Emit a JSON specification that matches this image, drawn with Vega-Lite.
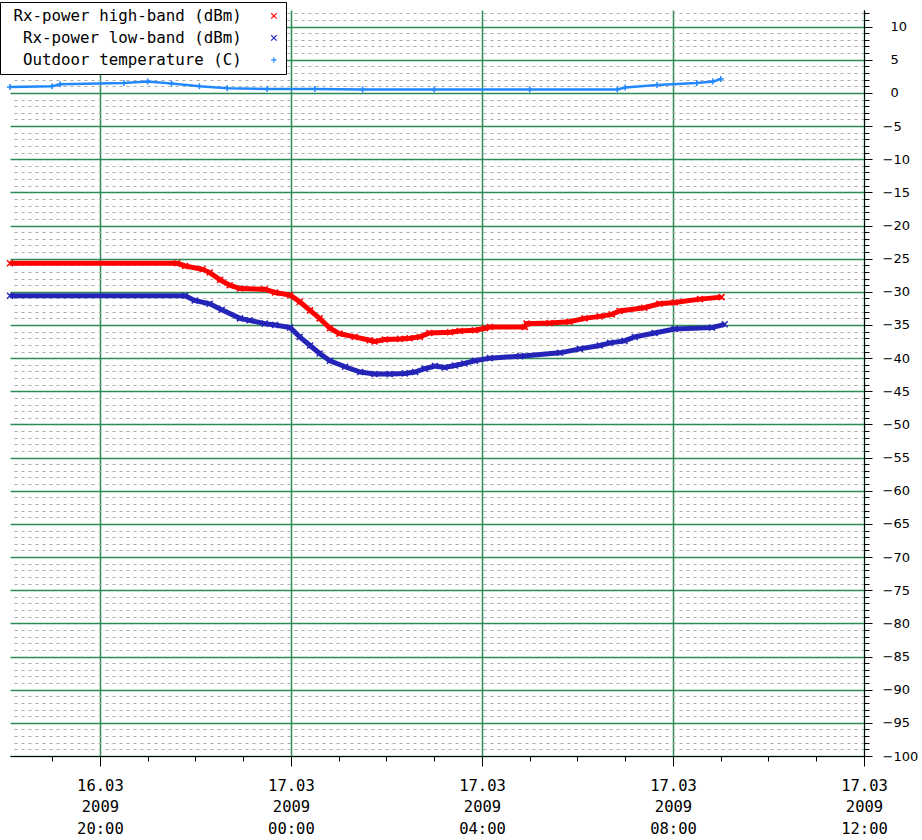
{
  "$schema": "https://vega.github.io/schema/vega-lite/v6.json",
  "width": 854,
  "height": 746,
  "autosize": {"type": "none"},
  "padding": {"left": 10, "top": 10, "right": 58, "bottom": 84},
  "background": "white",
  "config": {
    "view": {"stroke": null},
    "legend": {
      "title": null, "orient": "none", "legendX": -10, "legendY": -8,
      "fillColor": "white", "strokeColor": "black", "padding": 6,
      "labelFont": "DejaVu Sans Mono", "labelFontSize": 15.8, "labelColor": "black",
      "labelAlign": "right", "labelOffset": -40, "symbolOffset": 260, "labelLimit": 0,
      "rowPadding": 5, "symbolSize": 30, "symbolStrokeWidth": 1.2
    }
  },
  "data": {"values": [
    {"t": "2009-03-16T18:07", "s": "Rx-power high-band (dBm)", "v": -25.7},
    {"t": "2009-03-16T21:37", "s": "Rx-power high-band (dBm)", "v": -25.7},
    {"t": "2009-03-16T21:47", "s": "Rx-power high-band (dBm)", "v": -26.1},
    {"t": "2009-03-16T22:09", "s": "Rx-power high-band (dBm)", "v": -26.6},
    {"t": "2009-03-16T22:18", "s": "Rx-power high-band (dBm)", "v": -27.1},
    {"t": "2009-03-16T22:31", "s": "Rx-power high-band (dBm)", "v": -28.2},
    {"t": "2009-03-16T22:43", "s": "Rx-power high-band (dBm)", "v": -29.0},
    {"t": "2009-03-16T22:56", "s": "Rx-power high-band (dBm)", "v": -29.5},
    {"t": "2009-03-16T23:27", "s": "Rx-power high-band (dBm)", "v": -29.6},
    {"t": "2009-03-16T23:40", "s": "Rx-power high-band (dBm)", "v": -30.1},
    {"t": "2009-03-16T23:59", "s": "Rx-power high-band (dBm)", "v": -30.5},
    {"t": "2009-03-17T00:11", "s": "Rx-power high-band (dBm)", "v": -31.5},
    {"t": "2009-03-17T00:24", "s": "Rx-power high-band (dBm)", "v": -32.8},
    {"t": "2009-03-17T00:36", "s": "Rx-power high-band (dBm)", "v": -34.0},
    {"t": "2009-03-17T00:49", "s": "Rx-power high-band (dBm)", "v": -35.5},
    {"t": "2009-03-17T01:01", "s": "Rx-power high-band (dBm)", "v": -36.3},
    {"t": "2009-03-17T01:20", "s": "Rx-power high-band (dBm)", "v": -36.8},
    {"t": "2009-03-17T01:39", "s": "Rx-power high-band (dBm)", "v": -37.3},
    {"t": "2009-03-17T01:45", "s": "Rx-power high-band (dBm)", "v": -37.5},
    {"t": "2009-03-17T01:58", "s": "Rx-power high-band (dBm)", "v": -37.2},
    {"t": "2009-03-17T02:17", "s": "Rx-power high-band (dBm)", "v": -37.1},
    {"t": "2009-03-17T02:29", "s": "Rx-power high-band (dBm)", "v": -37.0},
    {"t": "2009-03-17T02:42", "s": "Rx-power high-band (dBm)", "v": -36.8},
    {"t": "2009-03-17T02:54", "s": "Rx-power high-band (dBm)", "v": -36.2},
    {"t": "2009-03-17T03:20", "s": "Rx-power high-band (dBm)", "v": -36.1},
    {"t": "2009-03-17T03:32", "s": "Rx-power high-band (dBm)", "v": -35.9},
    {"t": "2009-03-17T03:51", "s": "Rx-power high-band (dBm)", "v": -35.8},
    {"t": "2009-03-17T04:04", "s": "Rx-power high-band (dBm)", "v": -35.5},
    {"t": "2009-03-17T04:10", "s": "Rx-power high-band (dBm)", "v": -35.3},
    {"t": "2009-03-17T04:54", "s": "Rx-power high-band (dBm)", "v": -35.3},
    {"t": "2009-03-17T04:56", "s": "Rx-power high-band (dBm)", "v": -34.8},
    {"t": "2009-03-17T05:25", "s": "Rx-power high-band (dBm)", "v": -34.7},
    {"t": "2009-03-17T05:50", "s": "Rx-power high-band (dBm)", "v": -34.5},
    {"t": "2009-03-17T06:09", "s": "Rx-power high-band (dBm)", "v": -34.0},
    {"t": "2009-03-17T06:28", "s": "Rx-power high-band (dBm)", "v": -33.7},
    {"t": "2009-03-17T06:43", "s": "Rx-power high-band (dBm)", "v": -33.4},
    {"t": "2009-03-17T06:53", "s": "Rx-power high-band (dBm)", "v": -32.9},
    {"t": "2009-03-17T07:24", "s": "Rx-power high-band (dBm)", "v": -32.4},
    {"t": "2009-03-17T07:43", "s": "Rx-power high-band (dBm)", "v": -31.8},
    {"t": "2009-03-17T08:02", "s": "Rx-power high-band (dBm)", "v": -31.6},
    {"t": "2009-03-17T08:34", "s": "Rx-power high-band (dBm)", "v": -31.1},
    {"t": "2009-03-17T09:01", "s": "Rx-power high-band (dBm)", "v": -30.8},
    {"t": "2009-03-16T18:07", "s": "Rx-power low-band (dBm)", "v": -30.6},
    {"t": "2009-03-16T21:47", "s": "Rx-power low-band (dBm)", "v": -30.6},
    {"t": "2009-03-16T21:59", "s": "Rx-power low-band (dBm)", "v": -31.3},
    {"t": "2009-03-16T22:18", "s": "Rx-power low-band (dBm)", "v": -31.8},
    {"t": "2009-03-16T22:33", "s": "Rx-power low-band (dBm)", "v": -32.7},
    {"t": "2009-03-16T22:56", "s": "Rx-power low-band (dBm)", "v": -34.0},
    {"t": "2009-03-16T23:08", "s": "Rx-power low-band (dBm)", "v": -34.3},
    {"t": "2009-03-16T23:27", "s": "Rx-power low-band (dBm)", "v": -34.8},
    {"t": "2009-03-16T23:40", "s": "Rx-power low-band (dBm)", "v": -35.0},
    {"t": "2009-03-16T23:59", "s": "Rx-power low-band (dBm)", "v": -35.4},
    {"t": "2009-03-17T00:11", "s": "Rx-power low-band (dBm)", "v": -36.8},
    {"t": "2009-03-17T00:24", "s": "Rx-power low-band (dBm)", "v": -38.1},
    {"t": "2009-03-17T00:36", "s": "Rx-power low-band (dBm)", "v": -39.3},
    {"t": "2009-03-17T00:49", "s": "Rx-power low-band (dBm)", "v": -40.4},
    {"t": "2009-03-17T01:08", "s": "Rx-power low-band (dBm)", "v": -41.3},
    {"t": "2009-03-17T01:27", "s": "Rx-power low-band (dBm)", "v": -42.1},
    {"t": "2009-03-17T01:45", "s": "Rx-power low-band (dBm)", "v": -42.4},
    {"t": "2009-03-17T02:04", "s": "Rx-power low-band (dBm)", "v": -42.4},
    {"t": "2009-03-17T02:23", "s": "Rx-power low-band (dBm)", "v": -42.3},
    {"t": "2009-03-17T02:36", "s": "Rx-power low-band (dBm)", "v": -42.1},
    {"t": "2009-03-17T02:48", "s": "Rx-power low-band (dBm)", "v": -41.6},
    {"t": "2009-03-17T03:01", "s": "Rx-power low-band (dBm)", "v": -41.2},
    {"t": "2009-03-17T03:13", "s": "Rx-power low-band (dBm)", "v": -41.4},
    {"t": "2009-03-17T03:26", "s": "Rx-power low-band (dBm)", "v": -41.1},
    {"t": "2009-03-17T03:38", "s": "Rx-power low-band (dBm)", "v": -40.8},
    {"t": "2009-03-17T03:51", "s": "Rx-power low-band (dBm)", "v": -40.4},
    {"t": "2009-03-17T04:10", "s": "Rx-power low-band (dBm)", "v": -40.0},
    {"t": "2009-03-17T04:48", "s": "Rx-power low-band (dBm)", "v": -39.7},
    {"t": "2009-03-17T05:38", "s": "Rx-power low-band (dBm)", "v": -39.2},
    {"t": "2009-03-17T06:03", "s": "Rx-power low-band (dBm)", "v": -38.6},
    {"t": "2009-03-17T06:28", "s": "Rx-power low-band (dBm)", "v": -38.1},
    {"t": "2009-03-17T06:41", "s": "Rx-power low-band (dBm)", "v": -37.7},
    {"t": "2009-03-17T06:59", "s": "Rx-power low-band (dBm)", "v": -37.4},
    {"t": "2009-03-17T07:12", "s": "Rx-power low-band (dBm)", "v": -36.8},
    {"t": "2009-03-17T07:37", "s": "Rx-power low-band (dBm)", "v": -36.2},
    {"t": "2009-03-17T08:02", "s": "Rx-power low-band (dBm)", "v": -35.6},
    {"t": "2009-03-17T08:49", "s": "Rx-power low-band (dBm)", "v": -35.4},
    {"t": "2009-03-17T09:05", "s": "Rx-power low-band (dBm)", "v": -34.9},
    {"t": "2009-03-16T18:07", "s": "Outdoor temperature (C)", "v": 0.9},
    {"t": "2009-03-16T19:00", "s": "Outdoor temperature (C)", "v": 1.0},
    {"t": "2009-03-16T19:10", "s": "Outdoor temperature (C)", "v": 1.3},
    {"t": "2009-03-16T20:30", "s": "Outdoor temperature (C)", "v": 1.5},
    {"t": "2009-03-16T21:00", "s": "Outdoor temperature (C)", "v": 1.7},
    {"t": "2009-03-16T21:30", "s": "Outdoor temperature (C)", "v": 1.4},
    {"t": "2009-03-16T22:05", "s": "Outdoor temperature (C)", "v": 1.0},
    {"t": "2009-03-16T22:40", "s": "Outdoor temperature (C)", "v": 0.7},
    {"t": "2009-03-16T23:30", "s": "Outdoor temperature (C)", "v": 0.6},
    {"t": "2009-03-17T00:30", "s": "Outdoor temperature (C)", "v": 0.6},
    {"t": "2009-03-17T01:30", "s": "Outdoor temperature (C)", "v": 0.5},
    {"t": "2009-03-17T03:00", "s": "Outdoor temperature (C)", "v": 0.5},
    {"t": "2009-03-17T05:00", "s": "Outdoor temperature (C)", "v": 0.5},
    {"t": "2009-03-17T06:50", "s": "Outdoor temperature (C)", "v": 0.5},
    {"t": "2009-03-17T07:00", "s": "Outdoor temperature (C)", "v": 0.8},
    {"t": "2009-03-17T07:40", "s": "Outdoor temperature (C)", "v": 1.2},
    {"t": "2009-03-17T08:30", "s": "Outdoor temperature (C)", "v": 1.5},
    {"t": "2009-03-17T08:50", "s": "Outdoor temperature (C)", "v": 1.7},
    {"t": "2009-03-17T09:00", "s": "Outdoor temperature (C)", "v": 2.1}
  ]},
  "layer": [
    {
      "transform": [{"filter": "datum.s !== 'Outdoor temperature (C)'"}],
      "mark": {"type": "line", "strokeWidth": 5},
      "encoding": {
        "x": {
          "field": "t", "type": "temporal",
          "scale": {"domain": [
            {"year": 2009, "month": 3, "date": 16, "hours": 18, "minutes": 7},
            {"year": 2009, "month": 3, "date": 17, "hours": 12}
          ]},
          "axis": {
            "orient": "bottom", "title": null, "labels": false, "grid": false, "domain": false,
            "tickSize": 5, "tickColor": "black", "tickWidth": 1,
            "values": [
              {"year": 2009, "month": 3, "date": 16, "hours": 19},
              {"year": 2009, "month": 3, "date": 16, "hours": 21},
              {"year": 2009, "month": 3, "date": 16, "hours": 22},
              {"year": 2009, "month": 3, "date": 16, "hours": 23},
              {"year": 2009, "month": 3, "date": 17, "hours": 1},
              {"year": 2009, "month": 3, "date": 17, "hours": 2},
              {"year": 2009, "month": 3, "date": 17, "hours": 3},
              {"year": 2009, "month": 3, "date": 17, "hours": 5},
              {"year": 2009, "month": 3, "date": 17, "hours": 6},
              {"year": 2009, "month": 3, "date": 17, "hours": 7},
              {"year": 2009, "month": 3, "date": 17, "hours": 9},
              {"year": 2009, "month": 3, "date": 17, "hours": 10},
              {"year": 2009, "month": 3, "date": 17, "hours": 11}
            ]
          }
        },
        "y": {
          "field": "v", "type": "quantitative",
          "scale": {"domain": [-100, 12.5], "nice": false, "zero": false},
          "axis": {
            "orient": "right", "title": null, "labels": false, "domain": false,
            "tickSize": 5, "tickColor": "black", "tickWidth": 1,
            "grid": true, "gridColor": "#a8a8a8", "gridDash": [3, 4], "gridWidth": 1,
            "values": [-100,-99,-98,-97,-96,-95,-94,-93,-92,-91,-90,-89,-88,-87,-86,-85,-84,-83,-82,-81,-80,-79,-78,-77,-76,-75,-74,-73,-72,-71,-70,-69,-68,-67,-66,-65,-64,-63,-62,-61,-60,-59,-58,-57,-56,-55,-54,-53,-52,-51,-50,-49,-48,-47,-46,-45,-44,-43,-42,-41,-40,-39,-38,-37,-36,-35,-34,-33,-32,-31,-30,-29,-28,-27,-26,-25,-24,-23,-22,-21,-20,-19,-18,-17,-16,-15,-14,-13,-12,-11,-10,-9,-8,-7,-6,-5,-4,-3,-2,-1,0,1,2,3,4,5,6,7,8,9,10,11,12]
          }
        },
        "color": {
          "field": "s", "type": "nominal",
          "scale": {
            "domain": ["Rx-power high-band (dBm)", "Rx-power low-band (dBm)", "Outdoor temperature (C)"],
            "range": ["#ff0000", "#2424b8", "#2288ff"]
          }
        }
      }
    },
    {
      "transform": [{"filter": "datum.s === 'Outdoor temperature (C)'"}],
      "mark": {"type": "line", "strokeWidth": 2.5},
      "encoding": {
        "x": {
          "field": "t", "type": "temporal",
          "axis": {
            "orient": "bottom", "title": null, "grid": true, "gridColor": "#2e8b57", "gridWidth": 1.5,
            "domain": true, "domainColor": "black", "domainWidth": 1,
            "tickSize": 10, "tickColor": "black", "tickWidth": 1,
            "labelExpr": "[timeFormat(datum.value, '%d.%m'), timeFormat(datum.value, '%Y'), timeFormat(datum.value, '%H:%M')]",
            "labelFont": "DejaVu Sans Mono", "labelFontSize": 15.5, "labelLineHeight": 21.5,
            "labelColor": "black", "labelPadding": 12, "labelFlush": false, "labelOverlap": false, "labelBound": false,
            "values": [
              {"year": 2009, "month": 3, "date": 16, "hours": 20},
              {"year": 2009, "month": 3, "date": 17, "hours": 0},
              {"year": 2009, "month": 3, "date": 17, "hours": 4},
              {"year": 2009, "month": 3, "date": 17, "hours": 8},
              {"year": 2009, "month": 3, "date": 17, "hours": 12}
            ]
          }
        },
        "y": {
          "field": "v", "type": "quantitative",
          "axis": {
            "orient": "right", "title": null, "grid": true, "gridColor": "#2e8b57", "gridWidth": 1.5,
            "domain": true, "domainColor": "black", "domainWidth": 1,
            "tickSize": 8, "tickColor": "black", "tickWidth": 1,
            "labelAlign": "left", "labelPadding": 10, "labelFont": "DejaVu Sans", "labelFontSize": 13,
            "labelColor": "black", "labelFlush": false, "labelOverlap": false, "labelBound": false,
            "labelExpr": "datum.value < 0 ? '\u2212' + abs(datum.value) : ''",
            "values": [-100,-95,-90,-85,-80,-75,-70,-65,-60,-55,-50,-45,-40,-35,-30,-25,-20,-15,-10,-5,0,5,10]
          }
        },
        "color": {"field": "s", "type": "nominal"}
      }
    },
    {
      "mark": {"type": "point", "filled": false, "size": 36, "strokeWidth": 1.5, "opacity": 1},
      "encoding": {
        "x": {"field": "t", "type": "temporal", "axis": null},
        "y": {
          "field": "v", "type": "quantitative",
          "axis": {
            "orient": "right", "title": null, "grid": false, "domain": false,
            "ticks": true, "tickSize": 8, "tickOpacity": 0,
            "labelAlign": "left", "labelPadding": 18, "labelFont": "DejaVu Sans", "labelFontSize": 13,
            "labelColor": "black", "labelFlush": false, "labelOverlap": false, "labelBound": false,
            "values": [0, 5, 10]
          }
        },
        "color": {"field": "s", "type": "nominal"},
        "shape": {
          "field": "s", "type": "nominal",
          "scale": {
            "domain": ["Rx-power high-band (dBm)", "Rx-power low-band (dBm)", "Outdoor temperature (C)"],
            "range": ["M-1,-1L1,1M-1,1L1,-1", "M-1,-1L1,1M-1,1L1,-1", "M-1,0L1,0M0,-1L0,1"]
          }
        }
      }
    }
  ],
  "resolve": {"axis": {"x": "independent", "y": "independent"}}
}
